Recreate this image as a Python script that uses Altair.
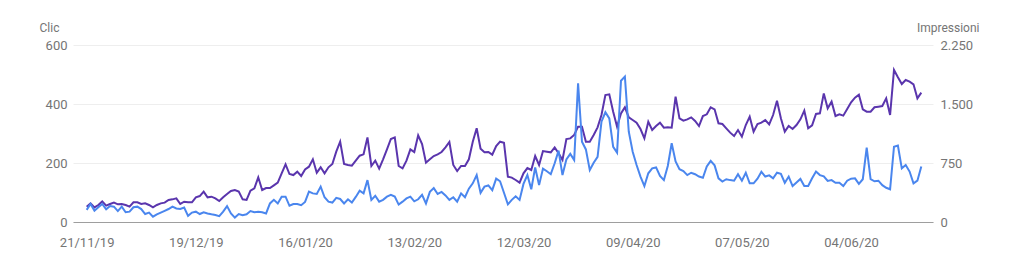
import altair as alt
import pandas as pd

start_date = "2019-11-21"

clic = [
    41, 61, 38, 50, 61, 43, 54, 52, 37, 52,
    33, 35, 50, 52, 44, 27, 32, 18, 26, 32,
    38, 44, 52, 46, 44, 49, 21, 32, 35, 27,
    33, 29, 26, 24, 20, 35, 54, 29, 15, 27,
    23, 26, 37, 33, 35, 33, 29, 63, 75, 63,
    86, 86, 55, 61,
    61, 57, 68, 103, 97, 95, 120, 84, 69, 66,
    82, 78, 63, 77, 66, 85, 106, 97, 142, 75,
    89, 69, 75, 86, 92, 86, 59, 69, 80, 86,
    70, 77, 92, 63, 102, 115, 95, 102, 90, 75,
    84, 69, 97, 84, 113, 131, 159, 99, 120, 124,
    108, 147, 138, 99,
    60, 75, 87, 75, 129, 159, 111, 185, 125, 181,
    172, 162, 199, 242, 159, 212, 231, 210, 470, 272,
    246, 176, 201, 221, 340, 372, 351, 255, 235, 479,
    493, 306, 238, 193, 154, 122, 165, 182, 185, 156,
    142, 190, 267, 205, 179, 173, 159, 167, 162, 154,
    150, 188, 207, 192,
    148, 137, 145, 142, 140, 162, 140, 167, 131, 131,
    147, 170, 154, 158, 148, 167, 163, 133, 154, 122,
    134, 146, 122, 122, 148, 171, 159, 155, 139, 142,
    133, 133, 122, 140, 147, 148, 129, 145, 252, 145,
    138, 140, 125, 116, 111, 255, 259, 182, 193, 171,
    131, 140, 188,
]

impressioni = [
    195, 237, 186, 216, 263, 208, 229, 246, 225, 229,
    216, 195, 250, 250, 229, 237, 216, 186, 216, 237,
    246, 280, 288, 301, 229, 258, 250, 250, 314, 330,
    386, 314, 322, 301, 267, 314, 356, 394, 407, 386,
    288, 280, 398, 428, 568, 407, 432, 432, 466, 500,
    619, 733, 610, 597,
    640, 585, 669, 703, 797, 627, 695, 619, 695, 737,
    894, 1021, 737, 725, 716, 780, 843, 860, 1076, 712,
    780, 678, 797, 924, 1055, 1076, 712, 682, 780, 924,
    890, 1102, 991, 754, 797, 839, 860, 890, 949, 1017,
    725, 648, 712, 712, 797, 1021, 1191, 932, 886, 890,
    856, 966, 1021, 1008,
    576, 564, 534, 500, 619, 686, 661, 839, 725, 902,
    894, 886, 949, 873, 788, 1055, 1063, 1106, 1212, 1212,
    1021, 1021, 1106, 1203, 1360, 1614, 1623, 1402, 1212, 1381,
    1458, 1330, 1297, 1263, 1182, 1063, 1275, 1169, 1220, 1263,
    1199, 1203, 1199, 1593, 1318, 1288, 1305, 1330, 1284, 1220,
    1347, 1369, 1458, 1432,
    1254, 1246, 1191, 1136, 1093, 1169, 1085, 1233, 1339, 1148,
    1246, 1263, 1297, 1241, 1360, 1542, 1318, 1148, 1220, 1182,
    1233, 1305, 1415, 1191, 1229, 1373, 1381, 1635, 1445, 1530,
    1347, 1369, 1352, 1436, 1521, 1580, 1619, 1432, 1402, 1402,
    1458, 1466, 1474, 1572, 1360, 1932, 1839, 1754, 1805, 1784,
    1750, 1572, 1644,
]

tick_dates = [(2019, 11, 21), (2019, 12, 19), (2020, 1, 16), (2020, 2, 13),
              (2020, 3, 12), (2020, 4, 9), (2020, 5, 7), (2020, 6, 4)]

clic_ticks = [0, 200, 400, 600]
impr_ticks = [0, 750, 1500, 2250]

dates = pd.date_range(start_date, periods=len(clic), freq="D")
df = pd.DataFrame({"data": dates, "Clic": clic, "Impressioni": impressioni})

TEXT = "#757575"
BLUE = "#4A86EE"
PURPLE = "#5A35AD"

x_enc = alt.X(
    "data:T",
    scale=alt.Scale(domain=[alt.DateTime(year=2019, month=11, date=17, hours=12),
                            alt.DateTime(year=2020, month=6, date=25)]),
    axis=alt.Axis(
        values=[alt.DateTime(year=y, month=m, date=d) for (y, m, d) in tick_dates],
        format="%d/%m/%y", title=None, grid=False, ticks=False,
        domainColor="#9e9e9e", domainWidth=1,
        labelColor=TEXT, labelFontSize=13, labelPadding=14,
    ),
)

base = alt.Chart(df)

line_clic = base.mark_line(color=BLUE, strokeWidth=2).encode(
    x=x_enc,
    y=alt.Y(
        "Clic:Q",
        scale=alt.Scale(domain=[0, 600], nice=False),
        axis=alt.Axis(
            orient="left", values=clic_ticks, title="Clic", titleAngle=0,
            titleAlign="left", titleX=-34, titleY=-14, titleBaseline="alphabetic",
            titleColor=TEXT, titleFontSize=12, titleFontWeight="normal",
            grid=True, gridColor="#eeeeee", domain=False, ticks=False,
            labelPadding=6, labelColor=TEXT, labelFontSize=13,
        ),
    ),
)

line_impr = base.mark_line(color=PURPLE, strokeWidth=2).encode(
    x=x_enc,
    y=alt.Y(
        "Impressioni:Q",
        scale=alt.Scale(domain=[0, 2250], nice=False),
        axis=alt.Axis(
            orient="right", values=impr_ticks, title="Impressioni", titleAngle=0,
            titleAlign="right", titleX=46, titleY=-14, titleBaseline="alphabetic",
            titleColor=TEXT, titleFontSize=12, titleFontWeight="normal",
            grid=False, domain=False, ticks=False,
            labelPadding=7, labelColor=TEXT, labelFontSize=13,
            labelExpr="replace(format(datum.value, ','), ',', '.')",
        ),
    ),
)

chart = (
    alt.layer(line_impr, line_clic)
    .resolve_scale(y="independent")
    .properties(
        width=860, height=177,
        autosize=alt.AutoSizeParams(type="none"),
        padding={"left": 73, "top": 45, "right": 91, "bottom": 54},
        background="white",
    )
    .configure(font="Roboto")
    .configure_view(stroke=None)
)

chart.save("out.html", embed_options={"renderer": "svg", "actions": False})
